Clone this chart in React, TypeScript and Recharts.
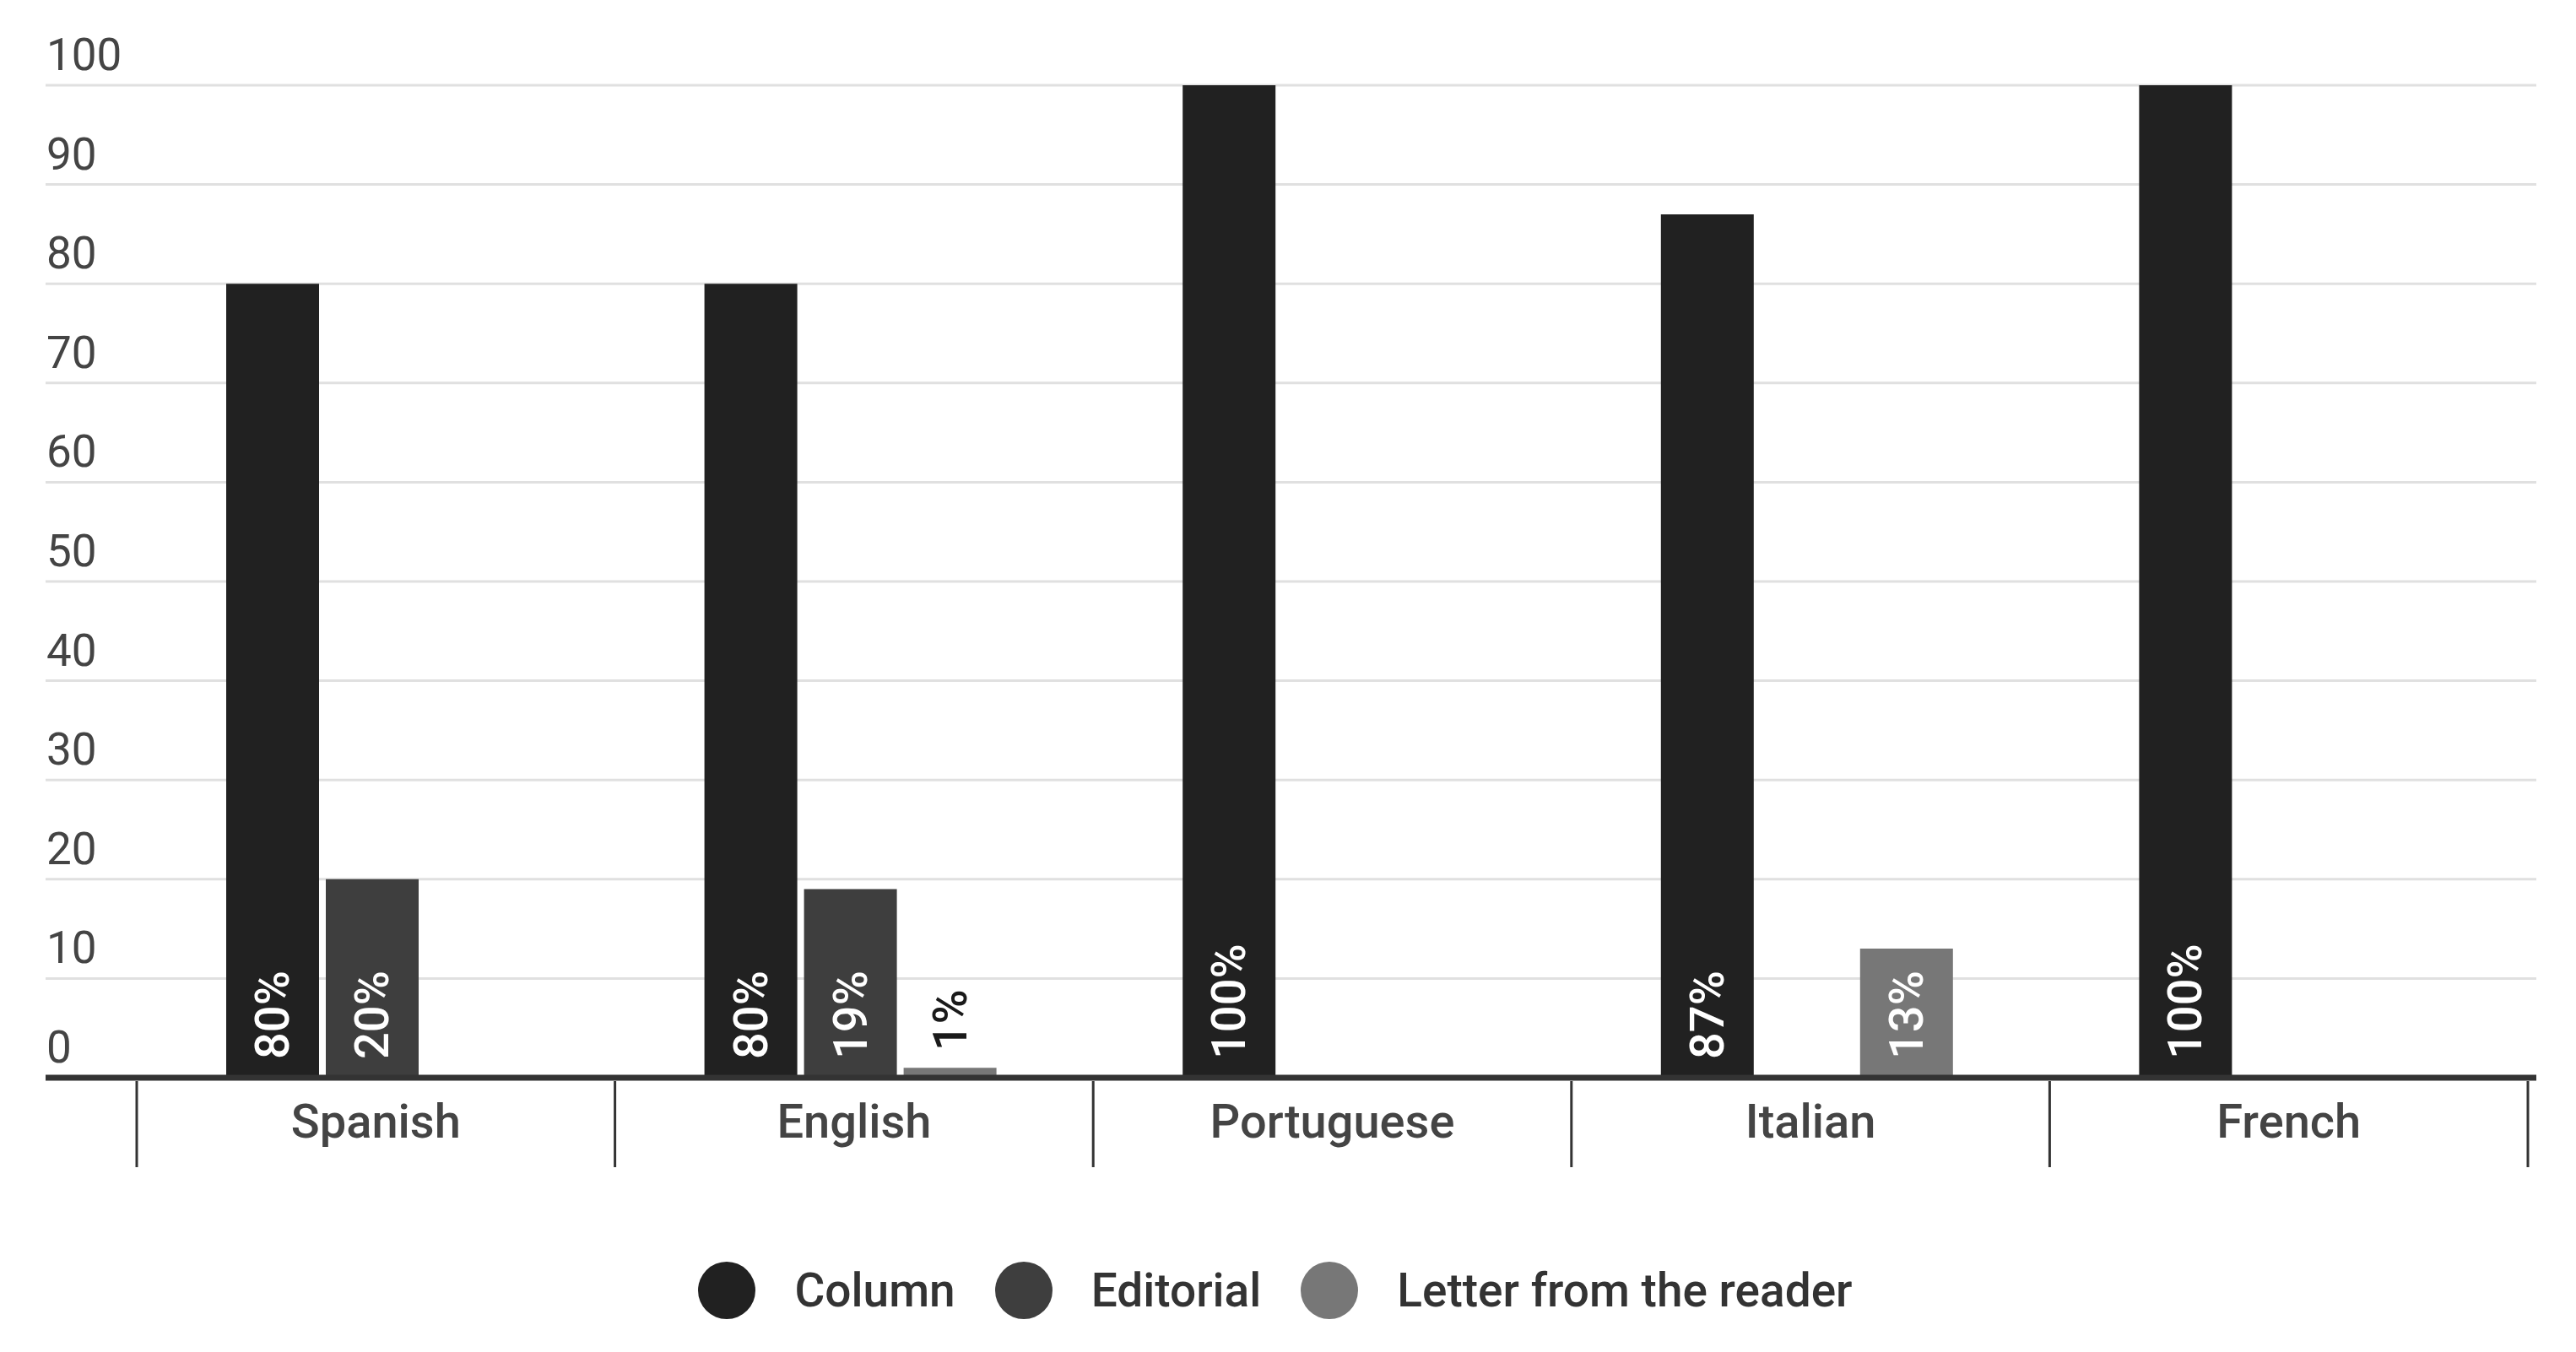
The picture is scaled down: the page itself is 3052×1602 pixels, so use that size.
import React from 'react';
import { BarChart, Bar, XAxis, YAxis, CartesianGrid, Legend, LabelList } from 'recharts';

const categories = ['Spanish', 'English', 'Portuguese', 'Italian', 'French'];
const columnValues = [80, 80, 100, 87, 100];
const editorialValues = [20, 19, 0, 0, 0];
const letterValues = [0, 1, 0, 13, 0];
const yTicks = [0, 10, 20, 30, 40, 50, 60, 70, 80, 90, 100];

const series = [
  { key: 'column', name: 'Column', color: '#212121' },
  { key: 'editorial', name: 'Editorial', color: '#3e3e3e' },
  { key: 'letter', name: 'Letter from the reader', color: '#777777' },
];

const data = categories.map((category, i) => ({
  category,
  column: columnValues[i],
  editorial: editorialValues[i],
  letter: letterValues[i],
}));

const WIDTH = 3050;
const HEIGHT = 1600;
const PLOT_LEFT = 54;
const PLOT_RIGHT = 3005;
const PAD_LEFT = 104;
const PAD_RIGHT = 14;
const DIVIDER_SHIFT = 4;
const BAND = (PLOT_RIGHT - PAD_RIGHT - PLOT_LEFT - PAD_LEFT) / categories.length;
const FONT = 'Roboto, sans-serif';

function ValueLabel(props: any) {
  const { value } = props;
  const vb = props.viewBox || {};
  const x = props.x ?? vb.x;
  const y = props.y ?? vb.y;
  const width = props.width ?? vb.width;
  const height = props.height ?? vb.height;
  if (!value) return null;
  const inside = value >= 5;
  const cx = x + width / 2;
  const top = Math.min(y, y + height);
  const bottom = Math.max(y, y + height);
  const startY = inside ? bottom - 22 : top - 20;
  return (
    <text
      transform={`translate(${cx},${startY}) rotate(-90)`}
      textAnchor="start"
      dominantBaseline="central"
      fill={inside ? '#ffffff' : '#1a1a1a'}
      fontSize={56}
      fontWeight={500}
      fontFamily={FONT}
    >
      {value}%
    </text>
  );
}

function CategoryTick(props: any) {
  const { x, y, payload, index } = props;
  const left = x - BAND / 2 + DIVIDER_SHIFT;
  const right = x + BAND / 2 + DIVIDER_SHIFT;
  return (
    <g>
      <line x1={left} x2={left} y1={y + 4} y2={y + 106} stroke="#333" strokeWidth={3} />
      {index === categories.length - 1 && (
        <line x1={right} x2={right} y1={y + 4} y2={y + 106} stroke="#333" strokeWidth={3} />
      )}
      <text x={x + DIVIDER_SHIFT} y={y + 71} textAnchor="middle" fill="#444" fontSize={56} fontWeight={500} fontFamily={FONT}>
        {payload.value}
      </text>
    </g>
  );
}

function ValueTick(props: any) {
  const { y, payload } = props;
  return (
    <text x={PLOT_LEFT + 1} y={y - 18} textAnchor="start" fill="#444" fontSize={53} fontFamily={FONT}>
      {payload.value}
    </text>
  );
}

function LegendContent() {
  return (
    <div
      style={{
        display: 'flex',
        justifyContent: 'center',
        alignItems: 'center',
        gap: 47,
        height: 70,
        paddingRight: 36,
        fontFamily: FONT,
        fontSize: 55,
        fontWeight: 500,
        color: '#333',
      }}
    >
      {series.map(s => (
        <div key={s.key} style={{ display: 'flex', alignItems: 'center' }}>
          <span
            style={{
              display: 'inline-block',
              width: 68,
              height: 68,
              borderRadius: '50%',
              background: s.color,
              marginRight: 46,
            }}
          />
          <span>{s.name}</span>
        </div>
      ))}
    </div>
  );
}

export default function App() {
  return (
    <div style={{ position: 'absolute', left: 0, top: 0, background: '#fff' }}>
      <BarChart
        width={WIDTH}
        height={HEIGHT}
        data={data}
        margin={{ top: 101, right: WIDTH - PLOT_RIGHT, left: PLOT_LEFT - 1, bottom: 143 }}
        barSize={110}
        barGap={8}
      >
        <CartesianGrid vertical={false} stroke="#e0e0e0" strokeWidth={3} />
        <XAxis
          dataKey="category"
          height={110}
          padding={{ left: PAD_LEFT, right: PAD_RIGHT }}
          tickLine={false}
          tickSize={0}
          tickMargin={0}
          axisLine={{ stroke: '#333', strokeWidth: 7 }}
          tick={<CategoryTick />}
          interval={0}
        />
        <YAxis
          width={1}
          domain={[0, 100]}
          ticks={yTicks}
          interval={0}
          axisLine={false}
          tickLine={false}
          tick={<ValueTick />}
        />
        <Legend
          verticalAlign="bottom"
          content={<LegendContent />}
          wrapperStyle={{ top: 1494, bottom: 'auto', height: 70 }}
        />
        {series.map(s => (
          <Bar key={s.key} dataKey={s.key} name={s.name} fill={s.color} isAnimationActive={false}>
            <LabelList dataKey={s.key} content={<ValueLabel />} />
          </Bar>
        ))}
      </BarChart>
    </div>
  );
}
